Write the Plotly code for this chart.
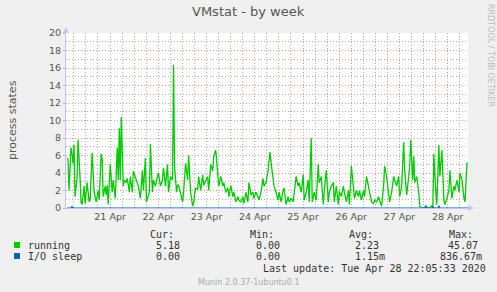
import numpy as np
import pandas as pd
import plotly.graph_objects as go

# ---------------- data ----------------
start_time = "2020-04-20 14:35"      # time of sample slot 0 (30-minute RRD steps)
axis_start = "2020-04-20 14:05"
axis_end = "2020-04-28 22:05"

# sample slots (30 min steps) and "running" values
running_slots = [
    0, 1, 2, 4, 5, 6, 7, 8, 10, 11,
    13, 14, 15, 17, 18, 20, 22, 23, 25, 27,
    29, 31, 32, 34, 35, 36, 38, 39, 40, 41,
    43, 45, 46, 48, 50, 51, 52, 53, 54, 56,
    57, 59, 60, 62,
    63, 65, 66, 68, 70, 71, 73, 75, 76, 78,
    79, 80, 82, 83, 85, 86, 88, 90, 91, 93,
    95, 96, 98, 100, 101, 103, 105, 106, 107, 109,
    110, 111, 113, 115, 116, 118, 120, 121, 123, 125,
    126, 128, 130, 131, 133, 135, 136, 138, 140, 141,
    143, 145, 146, 148, 150, 151, 153, 155, 156, 158,
    160, 161, 163, 165, 166, 168, 170, 171, 173, 175,
    176, 178, 180, 181, 183, 185, 186, 188, 190, 191,
    193, 195, 196, 198, 200, 201, 202, 204, 205, 206,
    208, 210,
    211, 213, 215, 216, 218, 220, 221, 223, 225, 226,
    228, 230, 231, 233, 235, 236, 238, 240, 241, 243,
    244, 246, 248, 250, 251, 253, 255, 256, 258, 260,
    261, 263, 265, 266, 268, 270, 271, 273, 275, 276,
    278, 280, 281, 283, 285, 286, 288, 290, 291, 293,
    295, 296, 298, 300, 301, 303, 305, 306, 308, 310,
    311, 313, 315, 316, 318, 320, 321, 323, 325, 326,
    328, 330, 331, 333, 335, 336, 338, 340, 341, 342,
    344, 345, 346, 348, 350, 351, 353, 355, 358, 361,
    363, 364, 365, 366, 368, 370, 371, 373, 375, 376,
    378, 380, 381, 383, 385, 386, 388, 390, 391, 393,
    395, 396, 398, 399,
]
running = [
    5.7, 5.6, 2.0, 6.9, 6.2, 5.1, 7.2, 1.3, 3.4, 7.8,
    3.4, 0.6, 0.4, 2.5, 0.5, 2.9, 0.7, 0.9, 6.3, 1.8,
    0.7, 2.0, 0.9, 6.2, 5.6, 1.3, 2.5, 1.5, 2.6, 0.4,
    5.0, 1.8, 3.2, 1.1, 6.9, 3.2, 9.1, 3.2, 10.4, 2.5,
    3.2, 2.9, 3.4, 1.8,
    3.6, 1.8, 4.2, 3.6, 2.9, 2.5, 1.1, 4.3, 2.0, 5.7,
    0.7, 1.1, 1.8, 7.3, 1.8, 3.2, 2.5, 3.6, 4.0, 2.5,
    3.2, 4.6, 2.5, 5.0, 1.8, 3.6, 3.2, 16.3, 4.8, 1.8,
    2.6, 2.6, 1.8, 0.7, 1.8, 5.1, 3.2, 6.0, 1.8, 0.2,
    0.7, 2.3, 2.1, 3.6, 2.0, 3.8, 2.6, 3.2, 3.6, 2.0,
    5.0, 4.2, 5.9, 6.6, 4.3, 2.5, 3.6, 2.5, 2.9, 1.8,
    2.3, 1.3, 2.6, 1.3, 1.8, 0.7, 1.3, 0.9, 0.7, 1.3,
    0.5, 1.8, 0.7, 2.9, 1.5, 1.8, 1.1, 1.8, 1.3, 0.9,
    1.8, 3.4, 2.5, 2.9, 4.2, 5.1, 6.4, 4.3, 3.6, 2.5,
    1.8, 0.9,
    1.8, 0.7, 2.0, 2.3, 0.4, 1.3, 0.7, 1.1, 0.7, 1.9,
    3.6, 2.5, 2.9, 1.8, 3.8, 0.9, 1.8, 3.2, 0.7, 8.0,
    0.7, 1.8, 0.9, 5.0, 2.9, 3.6, 0.4, 2.0, 4.3, 0.7,
    1.8, 2.5, 2.9, 0.7, 2.5, 0.4, 1.9, 1.3, 2.5, 1.8,
    0.7, 2.0, 0.4, 4.8, 1.8, 1.1, 2.0, 1.3, 2.0, 0.9,
    2.0, 1.3, 3.6, 2.5, 2.0, 0.7, 0.5, 0.9, 0.7, 1.3,
    0.9, 0.2, 2.5, 4.8, 3.6, 1.5, 0.7, 1.8, 3.6, 3.2,
    2.5, 3.6, 1.3, 2.5, 7.5, 4.3, 1.5, 3.6, 4.8, 7.8,
    3.2, 5.9, 2.9, 3.6, 1.8, 0.2, 0.0, 0.0, 0.0, 0.0,
    0.3, 0.0, 6.2, 3.6, 0.4, 7.2, 3.6, 6.6, 0.9, 0.4,
    1.1, 2.0, 4.3, 1.1, 2.5, 2.0, 3.2, 1.8, 4.0, 3.2,
    1.1, 0.7, 5.1, 5.18,
]

io_slots = [0, 4, 5, 6, 356, 357, 358, 363, 364, 365, 369, 370, 371, 399]
io_sleep = [0.0, 0.0, 0.2, 0.0, 0.0, 0.3, 0.0, 0.0, 0.15, 0.0, 0.0, 0.25, 0.0, 0.0]

series_names = ["running", "I/O sleep"]
series_colors = ["#00CC00", "#0066B3"]
stat_headers = ["Cur:", "Min:", "Avg:", "Max:"]
stats_running = ["5.18", "0.00", "2.23", "45.07"]
stats_io = ["0.00", "0.00", "1.15m", "836.67m"]
last_update = "Last update: Tue Apr 28 22:05:33 2020"
footer = "Munin 2.0.37-1ubuntu0.1"

# ---------------- figure ----------------
W, H = 497, 292
L, R, T, B = 66, 468, 33, 208


def px(x):
    return (x - L) / (R - L)


def py(y):
    return (B - y) / (B - T)


n = min(len(running_slots), len(running))
t0 = pd.Timestamp(start_time)
run_t = t0 + pd.to_timedelta(np.array(running_slots[:n]) * 30, unit="min")
io_t = t0 + pd.to_timedelta(np.array(io_slots) * 30, unit="min")

fig = go.Figure()
fig.add_trace(go.Scatter(x=run_t, y=running[:n], mode="lines",
                         line=dict(color=series_colors[0], width=1.3),
                         name=series_names[0], hoverinfo="skip"))
fig.add_trace(go.Scatter(x=io_t, y=io_sleep, mode="lines",
                         line=dict(color=series_colors[1], width=1.2),
                         name=series_names[1], hoverinfo="skip"))

major_grid = "rgba(225,120,120,0.75)"
minor_grid = "rgba(150,150,150,0.75)"
axis_col = "#c4c4ee"
tick_font = dict(family="DejaVu Sans", size=9.5, color="#555555")

fig.update_xaxes(
    type="date", range=[axis_start, axis_end],
    tick0="2020-04-21", dtick=86400000, ticklabelmode="period",
    tickformat="%d %b", tickfont=tick_font,
    showgrid=True, gridcolor=major_grid, griddash="1px,2px", gridwidth=1,
    minor=dict(dtick=6 * 3600000, showgrid=True, gridcolor=minor_grid,
               griddash="1px,2px", gridwidth=1),
    showline=True, linecolor=axis_col, linewidth=1,
    ticks="", zeroline=False, fixedrange=True,
)
fig.update_yaxes(
    range=[0, 20], dtick=2, tick0=0, tickfont=tick_font,
    showgrid=True, gridcolor=major_grid, griddash="1px,2px", gridwidth=1,
    minor=dict(dtick=1, showgrid=True, gridcolor=minor_grid,
               griddash="1px,2px", gridwidth=1),
    showline=True, linecolor=axis_col, linewidth=1,
    ticks="outside", ticklen=2, tickcolor="#bbbbbb",
    zeroline=False, fixedrange=True,
)

shapes = []
# axis arrows
shapes.append(dict(type="path", xref="paper", yref="paper",
                   path=f"M {px(63)} {py(33)} L {px(69)} {py(33)} L {px(66)} {py(27)} Z",
                   fillcolor=axis_col, line=dict(width=0)))
shapes.append(dict(type="path", xref="paper", yref="paper",
                   path=f"M {px(468)} {py(205)} L {px(468)} {py(211)} L {px(474)} {py(208)} Z",
                   fillcolor=axis_col, line=dict(width=0)))
# legend squares
for i, col in enumerate(series_colors):
    yc = 245 + 11 * i
    shapes.append(dict(type="rect", xref="paper", yref="paper",
                       x0=px(14), x1=px(20), y0=py(yc + 3), y1=py(yc - 3),
                       fillcolor=col, line=dict(width=0)))

mono = dict(family="DejaVu Sans Mono", size=10, color="#333333")
ann = []


def text(x, y, s, font, xanchor="left", **kw):
    ann.append(dict(x=px(x), y=py(y), xref="paper", yref="paper", text=s,
                    showarrow=False, xanchor=xanchor, yanchor="middle",
                    font=font, borderpad=0, **kw))


# title & side texts
text(248.5, 12, "VMstat - by week",
     dict(family="DejaVu Sans", size=13, color="#555555"), xanchor="center")
text(12, 120, "process states",
     dict(family="DejaVu Sans", size=11, color="#555555"), xanchor="center", textangle=-90)
text(491, 56, "RRDTOOL / TOBI OETIKER",
     dict(family="DejaVu Sans", size=8, color="#bbbbbb"), xanchor="center", textangle=90)

# legend table
header_x = [149, 249, 348, 448]
for hx, h in zip(header_x, stat_headers):
    text(hx, 234, h, mono)
text(27, 245, series_names[0], mono)
text(27, 256, series_names[1], mono)
run_x = [155, 255, 354, 447]
io_x = [155, 255, 354, 439]
for vx, v in zip(run_x, stats_running):
    text(vx, 245, v, mono)
for vx, v in zip(io_x, stats_io):
    text(vx, 256, v, mono)
text(262, 268, last_update, mono)
text(248.5, 282, footer, dict(family="DejaVu Sans", size=8, color="#aaaaaa"), xanchor="center")

fig.update_layout(
    width=W, height=H, autosize=False,
    margin=dict(l=L, r=W - R, t=T, b=H - B, pad=0),
    paper_bgcolor="#f0f0f0", plot_bgcolor="#ffffff",
    showlegend=False, shapes=shapes, annotations=ann,
)

fig.write_html("out.html", config={"displayModeBar": False})
